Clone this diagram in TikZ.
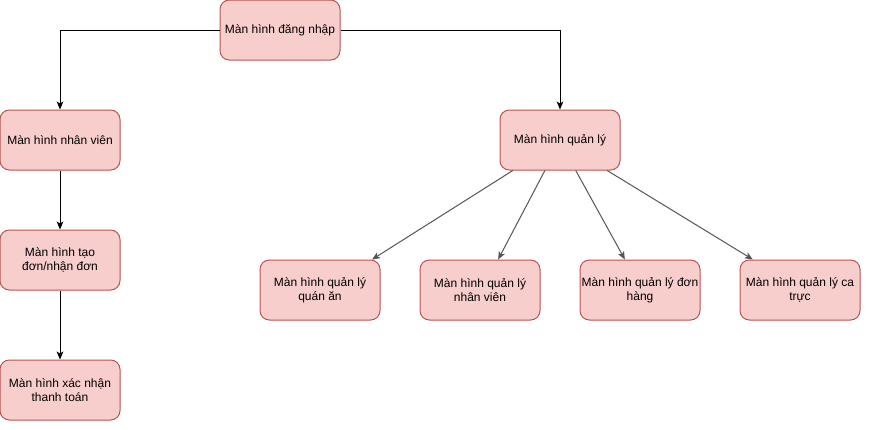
\documentclass[tikz,border=0pt]{standalone}
\usepackage{fontspec}
\setmainfont{Liberation Sans}
\usetikzlibrary{positioning}
\usetikzlibrary{arrows.meta}
\usetikzlibrary{calc}
\definecolor{boxfill}{HTML}{F8CECC}
\definecolor{boxline}{HTML}{B85450}
\definecolor{edgegray}{HTML}{555555}
\tikzset{screen/.style = {draw=boxline, fill=boxfill, rounded corners=7pt,
                          minimum width=90pt, minimum height=45pt,
                          inner sep=1pt, align=center,
                          font=\fontsize{9pt}{10.8pt}\selectfont,
                          line width=0.75pt}}
\tikzset{flow/.style = {-{Stealth[length=6pt,width=5pt,inset=1.5pt]},
                        line width=0.75pt}}
\tikzset{every picture/.style={x=0.75pt, y=-0.75pt}}

\begin{document}
\begin{tikzpicture}
      \useasboundingbox (0,0) rectangle (889,429);
      % top
      \node[screen] (login) at (280,30) {Màn hình đăng nhập};
      % employee side
      \node[screen] (emp) at (60,140) {Màn hình nhân viên};
      \node[screen] (order) at (60,260) {Màn hình tạo\\đơn/nhận đơn};
      \node[screen] (pay) at (60,390) {Màn hình xác nhận\\thanh toán};
      % manager side
      \node[screen] (mgr) at (560,140) {Màn hình quản lý};
      \node[screen] (shop) at (320,290) {Màn hình quản lý\\quán ăn};
      \node[screen] (staff) at (480,290) {Màn hình quản lý\\nhân viên};
      \node[screen] (orders) at (640,290) {Màn hình quản lý đơn\\hàng};
      \node[screen] (shift) at (800,290) {Màn hình quản lý ca\\trực};
      \draw[flow] (login.west) -| (emp.north);
      \draw[flow] (login.east) -| (mgr.north);
      \draw[flow] (emp) -- (order);
      \draw[flow] (order) -- (pay);
      \draw[flow,edgegray] ($(mgr.south west)!0.11!(mgr.south east)$)
        -- ($(shop.north west)!0.93!(shop.north east)$);
      \draw[flow,edgegray] ($(mgr.south west)!0.375!(mgr.south east)$)
        -- ($(staff.north west)!0.65!(staff.north east)$);
      \draw[flow,edgegray] ($(mgr.south west)!0.63!(mgr.south east)$)
        -- ($(orders.north west)!0.375!(orders.north east)$);
      \draw[flow,edgegray] ($(mgr.south west)!0.89!(mgr.south east)$)
        -- ($(shift.north west)!0.11!(shift.north east)$);
\end{tikzpicture}
\end{document}
